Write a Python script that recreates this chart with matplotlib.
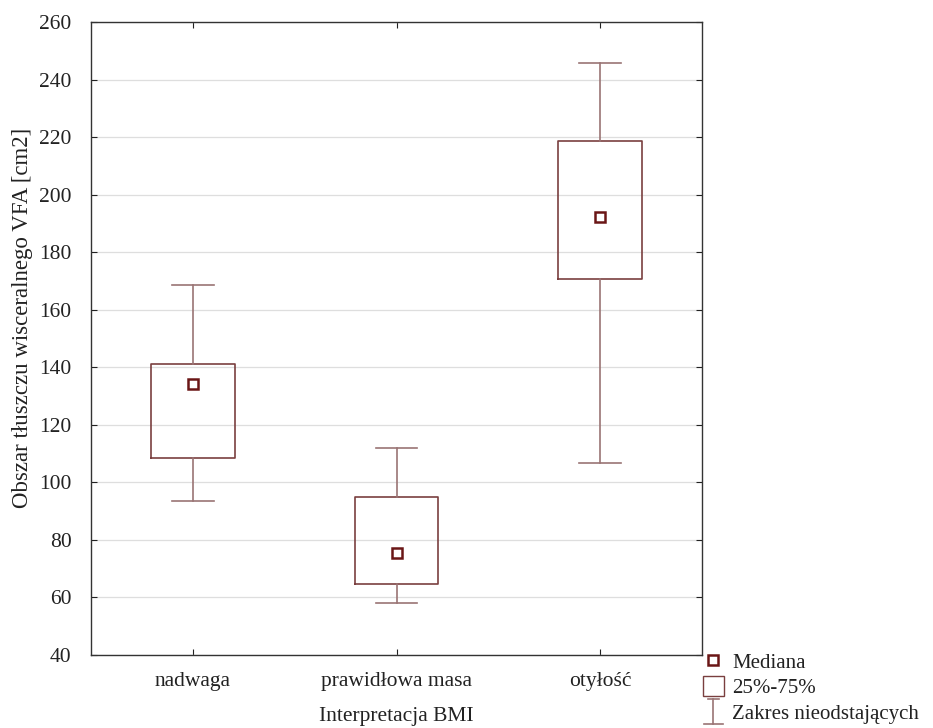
import matplotlib
matplotlib.use("Agg")
import matplotlib.pyplot as plt
from matplotlib.lines import Line2D
from matplotlib.patches import Rectangle
from matplotlib.legend_handler import HandlerBase

plt.rcParams['font.family'] = ['Liberation Serif', 'DejaVu Serif']

categories = ["nadwaga", "prawidłowa masa", "otyłość"]
medians = [134.3, 75.4, 192.2]
q1 = [108.3, 64.8, 170.8]
q3 = [141.0, 94.8, 218.7]
whis_lo = [93.6, 58.1, 106.9]
whis_hi = [168.5, 111.8, 245.7]
yticks = [40, 60, 80, 100, 120, 140, 160, 180, 200, 220, 240, 260]

box_col = "#7a3f3f"
whis_col = "#9a7474"
med_col = "#6a1616"

fig = plt.figure(figsize=(9.33, 7.28), dpi=100)
ax = fig.add_axes([91/933, 1-655/728, (702-91)/933, (655-22)/728])

stats = []
for i, c in enumerate(categories):
    stats.append(dict(label=c, med=medians[i], q1=q1[i], q3=q3[i],
                      whislo=whis_lo[i], whishi=whis_hi[i], fliers=[]))
pos = list(range(1, len(categories) + 1))
ax.bxp(stats, positions=pos, widths=0.41, showfliers=False,
       boxprops=dict(color=box_col, linewidth=1.2),
       whiskerprops=dict(color=whis_col, linewidth=1.2),
       capprops=dict(color=whis_col, linewidth=1.2),
       capwidths=0.205,
       medianprops=dict(visible=False), zorder=3)
ax.plot(pos, medians, linestyle='none', marker='s', markersize=7,
        markerfacecolor='white', markeredgecolor=med_col,
        markeredgewidth=1.8, zorder=4)

ax.set_xlim(0.5, 3.5)
ax.set_ylim(40, 260)
ax.set_yticks(yticks)
ax.set_xticks(pos)
ax.set_xticklabels(categories)
ax.yaxis.grid(True, color="#dedede", linewidth=0.9, zorder=0)
ax.set_axisbelow(True)
ax.tick_params(axis='both', direction='in', length=4, width=0.8,
               labelsize=15.5, colors='#222222', labelcolor='#222222')
ax.tick_params(axis='y', pad=14, right=True)
ax.tick_params(axis='x', pad=12, top=True)
for s in ax.spines.values():
    s.set_color('#333333')
    s.set_linewidth(1.0)

ax.set_xlabel("Interpretacja BMI", fontsize=15.5, color='#222222', labelpad=12)
ax.set_ylabel("Obszar tłuszczu wisceralnego VFA [cm2]", fontsize=16.5,
              color='#222222', labelpad=4, y=0.532)


class WhiskerHandler(HandlerBase):
    def create_artists(self, legend, orig_handle, xdescent, ydescent,
                       width, height, fontsize, trans):
        cx = width / 2 - xdescent
        top = height - ydescent + 2
        bot = -ydescent - 2
        l1 = Line2D([cx - 4, cx + 4], [top, top], color=whis_col, lw=1.2, transform=trans)
        l2 = Line2D([cx, cx], [bot, top], color=whis_col, lw=1.2, transform=trans)
        l3 = Line2D([cx - 7, cx + 7], [bot, bot], color=whis_col, lw=1.2, transform=trans)
        return [l1, l2, l3]


class Whisk:
    pass


h_med = Line2D([], [], linestyle='none', marker='s', markersize=7,
               markerfacecolor='white', markeredgecolor=med_col, markeredgewidth=1.8)
h_box = Rectangle((0, 0), 1, 1, facecolor='white', edgecolor=box_col, linewidth=1.0)
h_whis = Whisk()
leg = fig.legend([h_med, h_box, h_whis], ["Mediana", "25%-75%", "Zakres nieodstających"],
                 handler_map={Whisk: WhiskerHandler()},
                 loc='upper left', bbox_to_anchor=(703/933, 1-651/728),
                 frameon=False, fontsize=15, handlelength=1.0, handleheight=1.1,
                 handletextpad=0.4, labelspacing=0.15, borderpad=0, borderaxespad=0)
for t in leg.get_texts():
    t.set_color('#222222')

fig.savefig("out.png", dpi=100, facecolor='white')
